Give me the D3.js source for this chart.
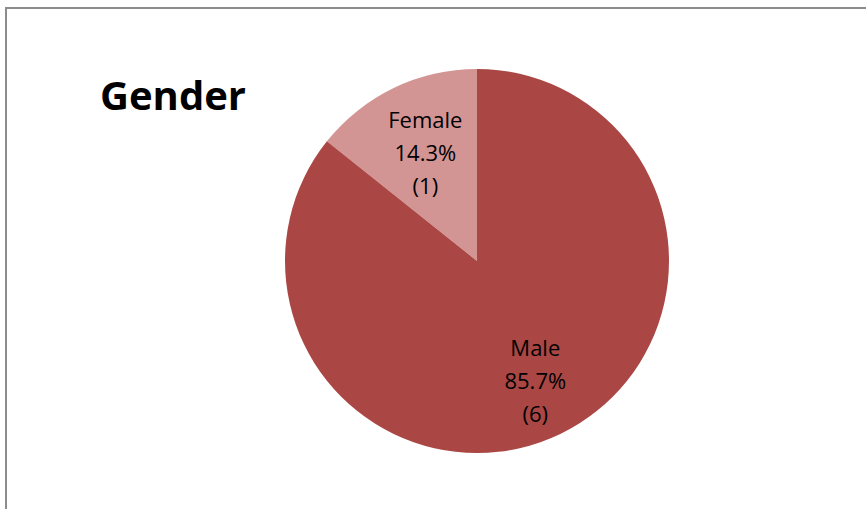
<!DOCTYPE html>
<html><head><meta charset="utf-8">
<script src="https://cdn.jsdelivr.net/npm/d3@7"></script>
<style>body{margin:0;background:#fff;}svg{display:block;}</style>
</head><body>
<svg id="c" width="866" height="509"></svg>
<script>
const categories = ["Female", "Male"];
const counts = [1, 6];
const percentLabels = ["14.3%", "85.7%"];
const colors = ["#D39594", "#AA4744"];
const title = "Gender";

const svg = d3.select("#c");
// frame
svg.append("rect").attr("x", 6).attr("y", 8).attr("width", 900).attr("height", 600)
  .attr("fill", "#fff").attr("stroke", "#8c8c8c").attr("stroke-width", 2);

svg.append("text").attr("x", 100).attr("y", 110)
  .attr("font-family", "Open Sans").attr("font-weight", "bold").attr("font-size", 40)
  .attr("fill", "#000").text(title);

const cx = 477, cy = 261, r = 192;
const data = categories.map((c, i) => ({cat: c, value: counts[i], pct: percentLabels[i], color: colors[i]}));
const total = d3.sum(counts);
const pie = d3.pie().value(d => d.value).sort(null)
  .startAngle(-2 * Math.PI * counts[0] / total).endAngle(2 * Math.PI - 2 * Math.PI * counts[0] / total);
const arcs = pie(data);
const arc = d3.arc().innerRadius(0).outerRadius(r);
const g = svg.append("g").attr("transform", `translate(${cx},${cy})`);
g.selectAll("path").data(arcs).join("path").attr("d", arc).attr("fill", d => d.data.color);

const labelFactor = [0.62, 0.70];
arcs.forEach((a, i) => {
  const la = d3.arc().innerRadius(r * labelFactor[i]).outerRadius(r * labelFactor[i]);
  const [x, y] = la.centroid(a);
  const t = g.append("text").attr("text-anchor", "middle")
    .attr("font-family", "Open Sans").attr("font-size", 22).attr("fill", "#000");
  const lines = [a.data.cat, a.data.pct, "(" + a.data.value + ")"];
  lines.forEach((ln, j) => {
    t.append("tspan").attr("x", x).attr("y", y + (j - 1) * 33 + 7).text(ln);
  });
});
</script>
</body></html>
